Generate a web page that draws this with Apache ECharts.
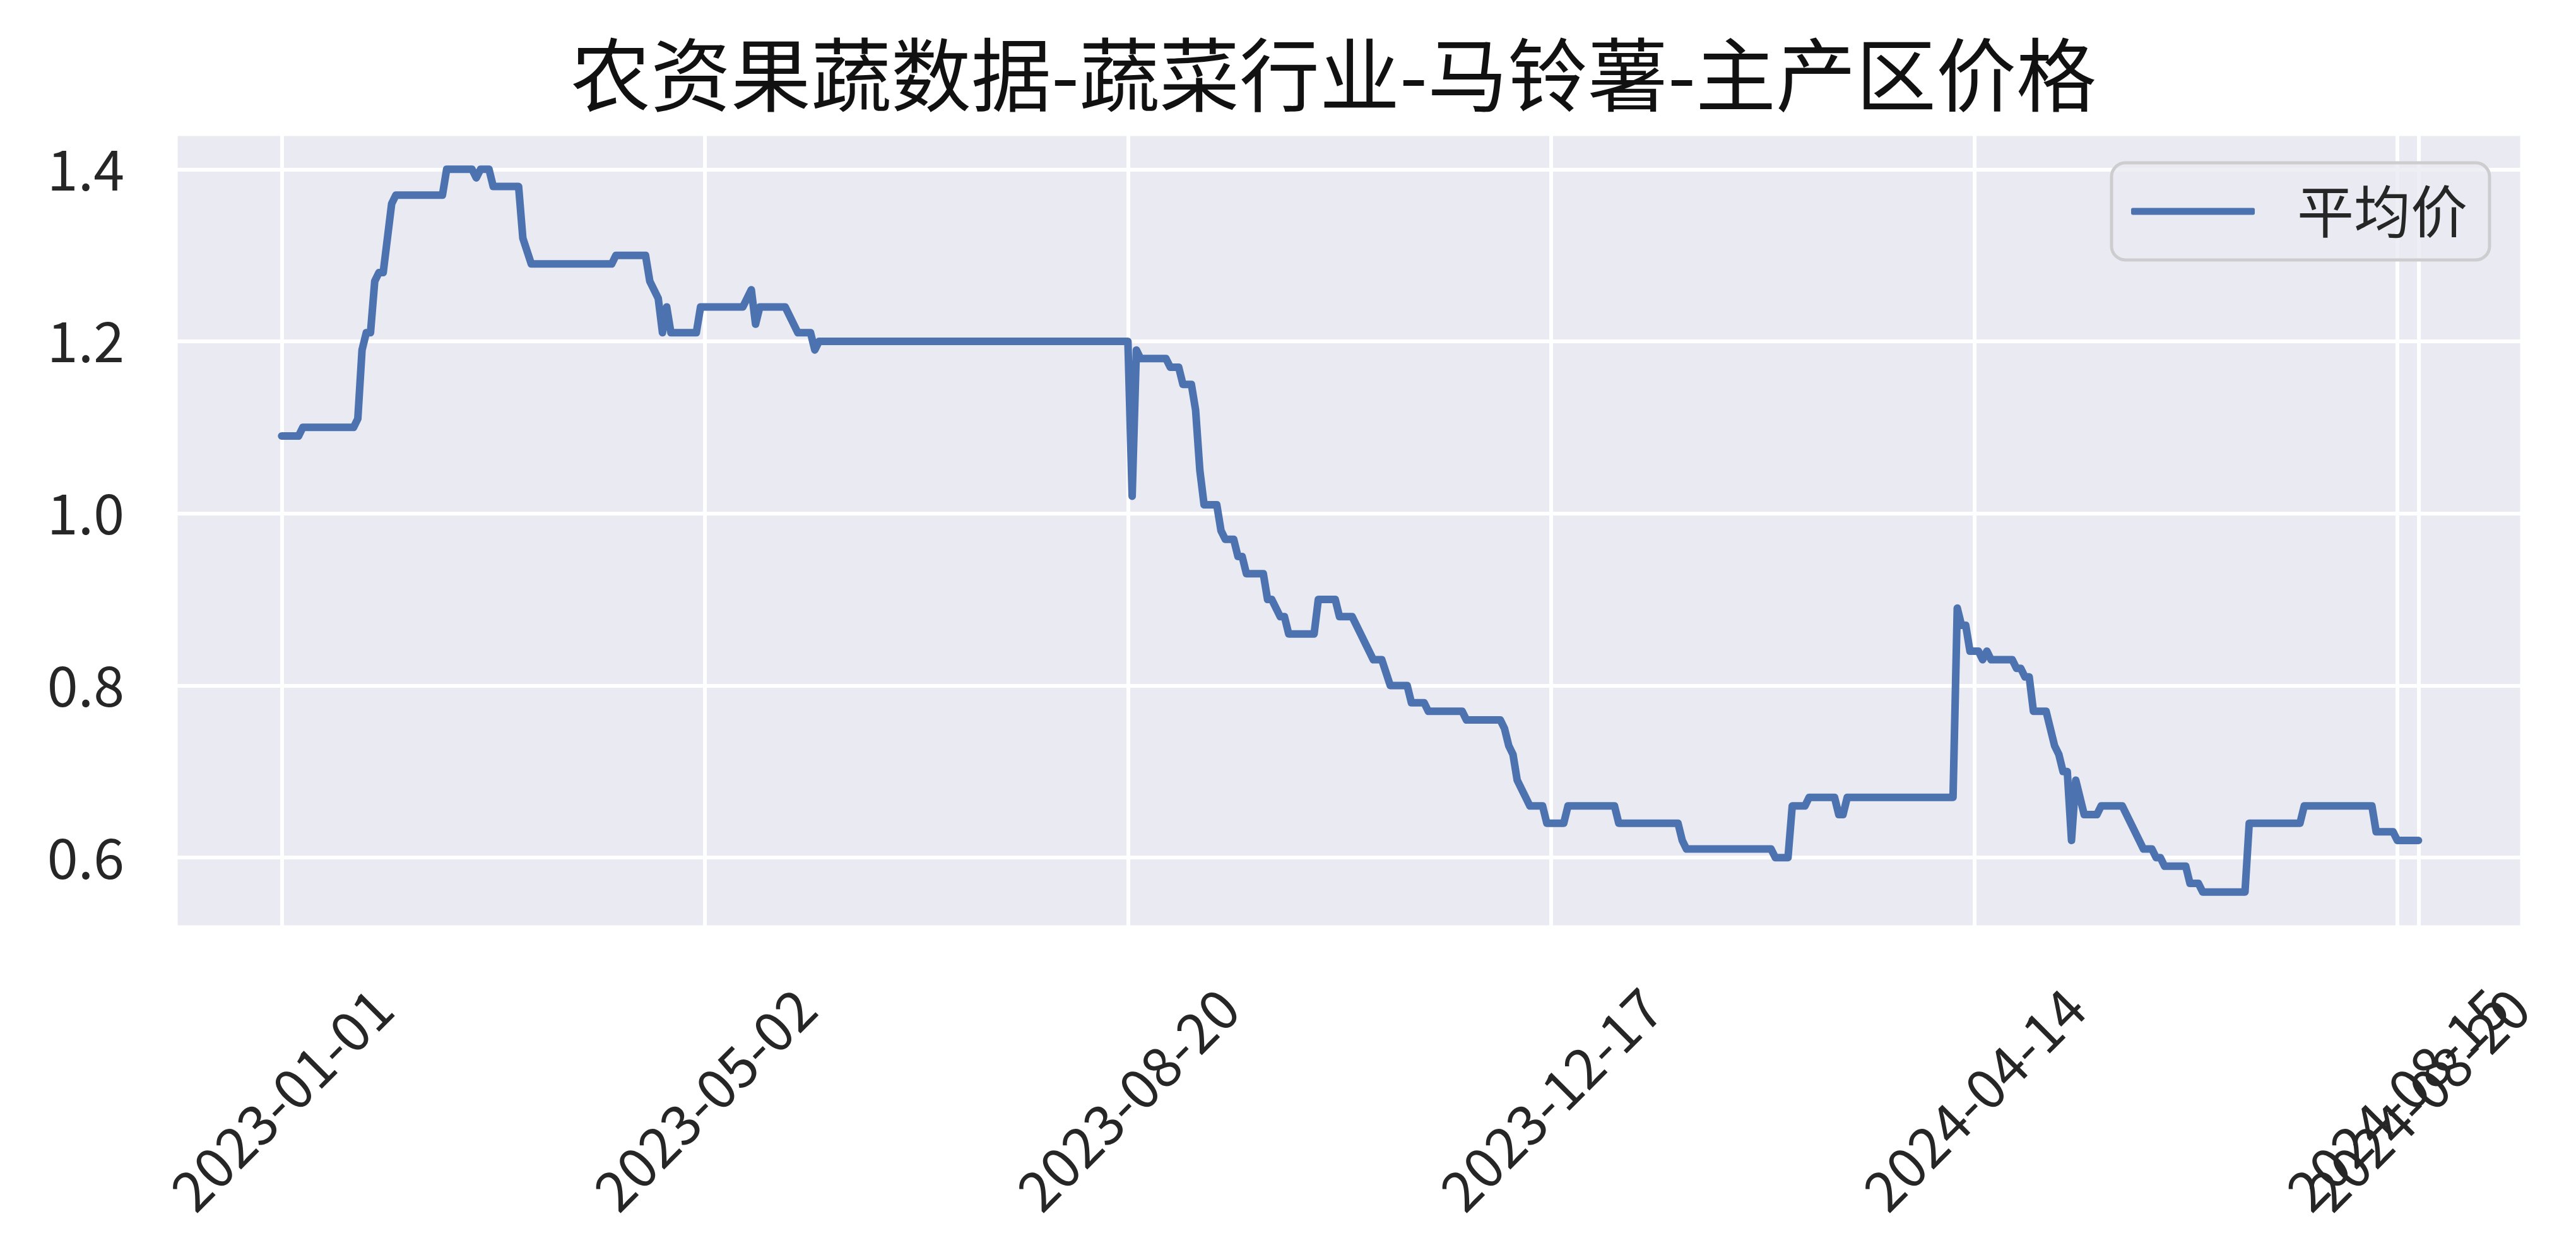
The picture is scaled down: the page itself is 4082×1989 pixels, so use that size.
<!DOCTYPE html>
<html>
<head>
<meta charset="utf-8">
<script src="https://cdn.jsdelivr.net/npm/echarts@6/dist/echarts.min.js"></script>
<style>
html,body{margin:0;padding:0;background:#fff;}
#c{width:4082px;height:1989px;}
</style>
</head>
<body>
<div id="c"></div>
<script>
// ---- data (sample index along the category axis, value) ----
const sampleIdx = [
  0,4,5,17,18,19,20,21,22,23,24,25,26,27,38,39,45,46,47,49,50,56,57,59,78,79,86,87,89,90,91,92,98,99,109,111,112,113,119,122,125,126,127,200,201,202,203,
  209,210,212,213,215,216,217,218,221,222,223,225,226,227,228,232,233,234,236,237,238,244,245,249,250,253,255,258,260,262,266,267,270,271,279,280,288,289,290,291,292,293,294,295,
  298,299,303,304,315,316,330,331,332,352,353,356,357,360,361,367,368,369,370,395,396,397,398,399,401,402,403,404,409,410,411,412,413,414,417,418,419,420,421,422,423,424,425,426,429,430,435,437,439,440,442,443,444,445,450,451,453,454,464,465,477,478,494,495,499,500,505
];
const avgPrice = [
  1.09,1.09,1.10,1.10,1.11,1.19,1.21,1.21,1.27,1.28,1.28,1.32,1.36,1.37,1.37,1.40,1.40,1.39,1.40,1.40,1.38,1.38,1.32,1.29,1.29,1.30,1.30,1.27,1.25,1.21,1.24,1.21,1.21,1.24,1.24,1.26,1.22,1.24,1.24,1.21,1.21,1.19,1.20,1.20,1.02,1.19,1.18,
  1.18,1.17,1.17,1.15,1.15,1.12,1.05,1.01,1.01,0.98,0.97,0.97,0.95,0.95,0.93,0.93,0.90,0.90,0.88,0.88,0.86,0.86,0.90,0.90,0.88,0.88,0.86,0.83,0.83,0.80,0.80,0.78,0.78,0.77,0.77,0.76,0.76,0.75,0.73,0.72,0.69,0.68,0.67,0.66,
  0.66,0.64,0.64,0.66,0.66,0.64,0.64,0.62,0.61,0.61,0.60,0.60,0.66,0.66,0.67,0.67,0.65,0.65,0.67,0.67,0.89,0.87,0.87,0.84,0.84,0.83,0.84,0.83,0.83,0.82,0.82,0.81,0.81,0.77,0.77,0.75,0.73,0.72,0.70,0.70,0.62,0.69,0.67,0.65,0.65,0.66,0.66,0.64,0.62,0.61,0.61,0.60,0.60,0.59,0.59,0.57,0.57,0.56,0.56,0.64,0.64,0.66,0.66,0.63,0.63,0.62,0.62
];
const xTickIdx = [0, 100, 200, 300, 400, 500, 505];
const xTickLabels = ['2023-01-01','2023-05-02','2023-08-20','2023-12-17','2024-04-14','2024-08-15','2024-08-20'];
const yTicks = [0.6, 0.8, 1.0, 1.2, 1.4];
const seriesName = '平均价';
const chartTitle = '农资果蔬数据-蔬菜行业-马铃薯-主产区价格';

const points = sampleIdx.map((x, i) => [x, avgPrice[i]]);
// the two crowded end labels are split over two overlaid axes so neither is dropped
const labelsMain = xTickIdx.filter((v, i) => i !== 5);
const labelsExtra = [xTickIdx[5]];

const FONT = '"Noto Sans CJK SC", "Noto Sans", sans-serif';
const TXT = '#262626';
const X_MIN = -25.25, X_MAX = 529.7, Y_MIN = 0.518, Y_MAX = 1.442;
const GRID_BOX = {left: 277, top: 211, width: 3721, height: 1260};

function xLabel(v) {
  const i = xTickIdx.indexOf(Math.round(v));
  return i >= 0 ? xTickLabels[i] : '';
}
function xLabelStyle(vals) {
  return {
    customValues: vals,
    hideOverlap: false,
    rotate: 45,
    align: 'center',
    verticalAlign: 'middle',
    margin: 271,
    fontFamily: FONT,
    fontSize: 88,
    color: TXT,
    formatter: xLabel
  };
}

const chart = echarts.init(document.getElementById('c'), null, {renderer: 'canvas'});
chart.setOption({
  animation: false,
  backgroundColor: '#ffffff',
  textStyle: {fontFamily: FONT},
  title: {
    text: chartTitle,
    left: 2108,
    top: 50,
    textAlign: 'center',
    textStyle: {fontFamily: FONT, fontSize: 127, fontWeight: 'normal', color: '#111111'}
  },
  legend: {
    data: [{name: seriesName, icon: 'roundRect'}],
    left: 3346,
    top: 258,
    orient: 'horizontal',
    padding: [32, 35, 32, 31],
    itemWidth: 196,
    itemHeight: 11,
    backgroundColor: 'rgba(234,234,242,0.8)',
    borderColor: '#cdcdd0',
    borderWidth: 5,
    borderRadius: 22,
    itemStyle: {color: '#4C72B0', borderWidth: 0},
    textStyle: {fontFamily: FONT, fontSize: 90, color: TXT, padding: [0, 0, 0, 62]}
  },
  grid: [
    Object.assign({
      show: true,
      backgroundColor: '#EAEAF2',
      borderColor: '#ffffff',
      borderWidth: 9,
      containLabel: false,
      outerBoundsMode: 'none'
    }, GRID_BOX),
    Object.assign({
      show: false,
      containLabel: false,
      outerBoundsMode: 'none'
    }, GRID_BOX)
  ],
  xAxis: [
    {
      type: 'value',
      gridIndex: 0,
      min: X_MIN,
      max: X_MAX,
      axisLine: {show: false},
      axisTick: {show: false, customValues: xTickIdx},
      axisLabel: xLabelStyle(labelsMain),
      splitLine: {show: true, lineStyle: {color: '#ffffff', width: 6}}
    },
    {
      type: 'value',
      gridIndex: 1,
      position: 'bottom',
      min: X_MIN,
      max: X_MAX,
      axisLine: {show: false},
      axisTick: {show: false, customValues: labelsExtra},
      axisLabel: xLabelStyle(labelsExtra),
      splitLine: {show: false}
    }
  ],
  yAxis: [
    {
      type: 'value',
      gridIndex: 0,
      min: Y_MIN,
      max: Y_MAX,
      axisLine: {show: false},
      axisTick: {show: false, customValues: yTicks},
      axisLabel: {
        customValues: yTicks,
        margin: 80,
        fontFamily: FONT,
        fontSize: 88,
        color: TXT,
        formatter: function (v) { return v.toFixed(1); }
      },
      splitLine: {show: true, lineStyle: {color: '#ffffff', width: 6}}
    },
    {
      type: 'value',
      gridIndex: 1,
      min: Y_MIN,
      max: Y_MAX,
      show: false
    }
  ],
  series: [{
    name: seriesName,
    type: 'line',
    xAxisIndex: 0,
    yAxisIndex: 0,
    data: points,
    symbol: 'none',
    showSymbol: false,
    smooth: false,
    lineStyle: {color: '#4C72B0', width: 12, cap: 'round', join: 'round'},
    itemStyle: {color: '#4C72B0'},
    z: 3
  }]
});
</script>
</body>
</html>
